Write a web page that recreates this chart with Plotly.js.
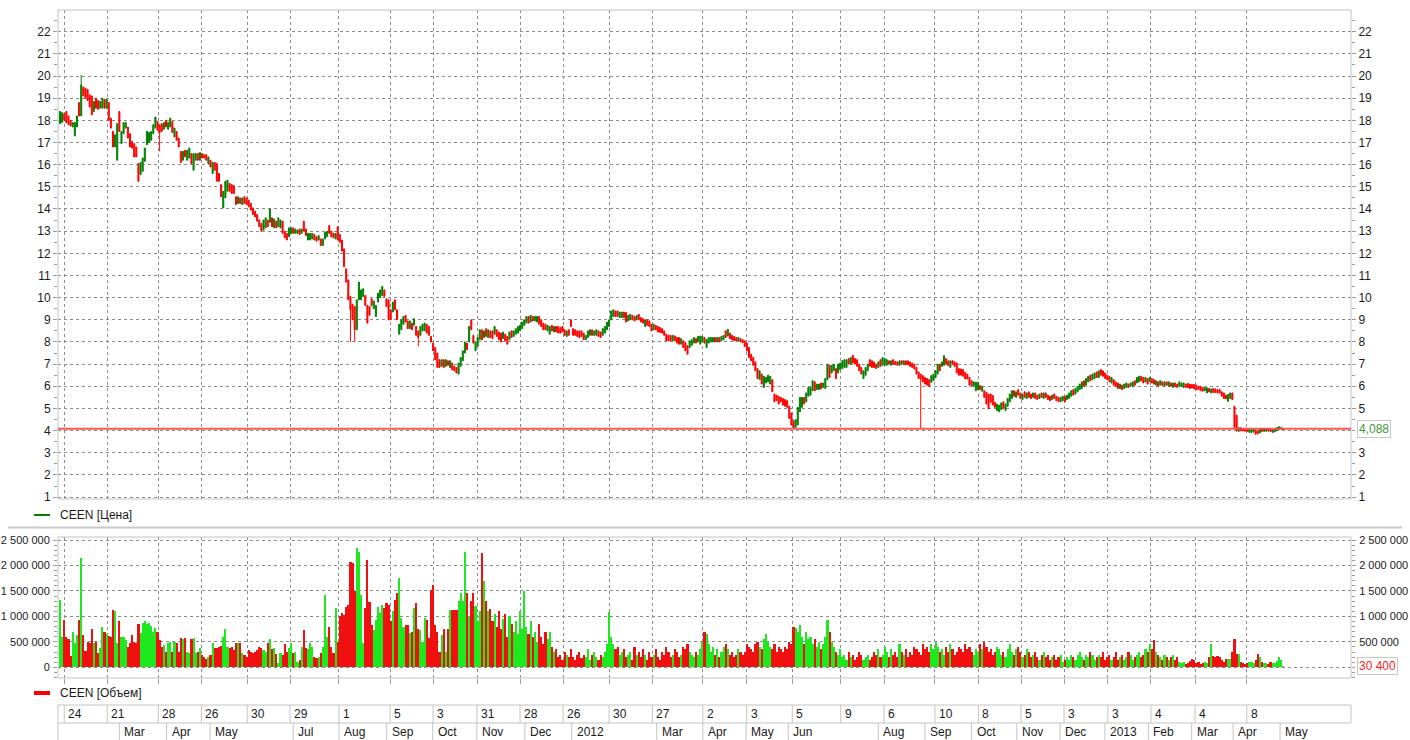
<!DOCTYPE html>
<html><head><meta charset="utf-8">
<script src="https://cdn.plot.ly/plotly-3.0.1.min.js"></script>
<style>html,body{margin:0;padding:0;background:#fff;overflow:hidden}#chart{width:1410px;height:740px}</style>
</head><body><div id="chart"></div>
<script>
// ---- price candles (one per trading day) ----
const openP = [
17.85,17.9,18.3,18.4,18.2,18,17.7,17.3,17.7,18.8,
18.2,19.5,19.45,19.4,19.15,19.1,18.4,19,18.9,18.55,
18.55,18.95,18.55,18.8,18.1,17.5,16.8,16.2,18.4,16.95,
17.4,17.65,17.7,17.4,17.05,16.95,16.8,16.05,15.55,15.7,
16.15,16.9,17,17.1,17.4,17.65,17.95,17.8,17.85,17.6,
18,17.6,17.7,17.95,17.25,17.5,17.2,16.6,16.2,16.65,
16.2,16.3,16.5,15.75,16.2,16.5,16.2,16.5,16.45,16.45,
16.05,16.2,15.6,16.1,16.05,15.6,15.1,14.05,14.5,14.8,
15.15,15.1,15.05,14.55,14.25,14.5,14.2,14.55,14.5,14.4,
14.25,14.05,13.9,13.75,13.5,13.35,13.05,13.15,13.5,13.4,
13.6,13.15,13.45,13.2,13.15,13.45,13,12.9,12.75,12.9,
13.15,12.9,12.9,13.1,12.9,13.45,13.1,12.6,12.6,12.65,
12.85,12.75,12.6,12.65,12.35,12.65,12.75,13.25,13,12.9,
12.65,13.2,12.85,12.6,12.2,11.3,10.8,10.05,9.7,9.6,
8.55,9.9,9.9,10.05,10.1,9.65,9.6,9.95,9.5,9.15,
9.8,10,10.1,10.35,9.95,9.9,9.45,9.35,9.9,9.45,
8.35,8.55,8.8,9.2,8.95,8.6,8.85,8.75,8.7,8.5,
8.3,8.5,8.5,8.8,8.7,8.25,7.95,7.75,7.5,7.2,
6.9,7.2,6.9,7.15,6.85,7.05,6.9,6.85,6.55,6.9,
7.15,7.5,7.95,8,9,8.3,7.6,7.8,8.1,8.55,
8.2,8.6,8.2,8.5,8.5,8.35,8.55,8.45,8.4,8.15,
8.35,8.25,8.1,8.5,8.25,8.35,8.4,8.5,8.6,8.75,
8.85,9.15,8.9,9.15,8.95,8.9,9.15,9,8.85,8.8,
8.5,8.35,8.75,8.45,8.7,8.7,8.65,8.7,8.55,8.25,
8.55,9,8.6,8.55,8.5,8.5,8.5,8.4,8.1,8.2,
8.3,8.55,8.3,8.3,8.5,8.45,8.3,8.4,8.55,8.7,
9,9.15,9.4,9.4,9.1,9.1,9.35,9.33,8.95,9,
9.2,9.15,9,9.25,9.1,9.05,8.7,9,8.95,8.8,
8.55,8.75,8.7,8.65,8.6,8.5,8.35,8.3,8.3,8.05,
8.27,8.2,8.2,7.9,8.05,7.97,7.83,7.75,7.85,7.95,
8.15,8,7.9,8,8.2,7.75,7.95,8,8,8.2,
8,8.2,8.05,8.1,8.5,8.27,8.4,8.3,8.25,8.2,
8.05,8.15,8.1,8.05,7.95,7.75,7.45,7.3,7.1,6.8,
6.3,6.55,5.95,6.15,6.2,6.1,6.3,5.65,5.6,5.55,
5.5,5.45,5.4,5.35,5.1,4.8,4.45,4.15,4.25,4.85,
5.05,5.5,5.3,5.55,5.6,5.8,6.2,5.85,5.85,6.15,
5.95,5.9,6.3,6.95,6.6,6.7,6.8,6.6,6.75,6.8,
6.85,6.85,7.25,7,7.4,7.25,7.2,7,6.85,6.35,
6.5,6.7,7.2,7.15,7.1,7,6.85,7.2,6.95,6.95,
6.95,7.15,6.95,7.2,7.12,7.1,6.95,7.15,6.97,7.15,
7.15,7.1,7.05,7,6.85,6.65,6.55,6.48,6.4,6.35,
6.3,6.18,6.25,6.4,6.55,7,6.9,6.95,7.25,7.15,
6.85,7.15,7.1,7.05,6.8,6.78,6.75,6.63,6.55,6.4,
6.25,6,5.8,5.85,6.03,5.78,5.8,5.73,5.65,5.65,
5.58,5.28,4.9,4.85,4.95,5.3,4.9,5.1,5.3,5.45,
5.8,5.5,5.85,5.7,5.4,5.75,5.45,5.75,5.65,5.5,
5.7,5.6,5.45,5.7,5.45,5.7,5.6,5.55,5.4,5.65,
5.55,5.5,5.3,5.35,5.55,5.4,5.45,5.55,5.85,5.65,
5.75,5.85,5.9,6.25,6.05,6.2,6.5,6.3,6.35,6.65,
6.4,6.75,6.7,6.6,6.5,6.45,6.15,6.3,6.2,6.15,
5.9,6.05,5.9,5.95,6.1,6,6,6.25,6.15,6.2,
6.45,6.4,6.2,6.35,6.2,6.35,6.3,6.05,6.2,6.05,
6.2,6,6.2,6,6.15,5.95,6.15,6.1,6,6,
5.95,6.1,6.13,6.1,6.08,6.08,6.05,6,6,5.95,
5.8,5.7,5.9,5.7,5.9,5.88,5.85,5.85,5.75,5.7,
5.6,5.32,5.45,5.7,5.1,4.7,3.97,4.12,4.08,4.05,
4.05,3.93,3.92,3.95,4.02,3.98,3.9,4.08,3.97,3.98,
4.08,4.05,3.92,3.95,4,4.06,4.07,4.05];
const highP = [
18.4,18.35,18.3,18.4,18.2,18,17.9,17.9,18.2,18.8,
20.05,19.5,19.45,19.4,19.15,19.1,18.85,19,18.9,18.85,
19,18.95,18.95,18.8,18.1,17.5,17.35,17.85,18.4,17.5,
17.9,17.9,17.7,17.4,17.05,16.95,16.8,16.05,16.1,16.3,
16.75,17.5,17.45,17.5,17.8,18.15,17.95,17.8,17.85,17.9,
18,17.9,18.1,17.95,17.65,17.5,17.2,16.6,16.6,16.65,
16.65,16.75,16.5,16.5,16.5,16.5,16.55,16.5,16.45,16.45,
16.35,16.2,16.1,16.1,16.05,15.6,15.1,14.8,15.25,15.3,
15.15,15.1,15.05,14.55,14.55,14.5,14.5,14.55,14.5,14.4,
14.25,14.05,13.9,13.75,13.5,13.35,13.5,13.6,13.5,14,
13.6,13.55,13.45,13.6,13.5,13.45,13,12.9,13.15,13.15,
13.15,13.1,13.05,13.1,13.1,13.45,13.1,12.9,12.9,12.9,
12.85,12.75,12.8,12.65,12.65,12.95,13,13.25,13,12.9,
12.9,13.2,12.85,12.6,12.2,11.3,10.8,10.05,9.7,9.6,
9.9,10.7,10.35,10.4,10.1,9.65,9.6,9.95,9.85,9.65,
10.2,10.35,10.5,10.35,9.95,9.9,9.45,9.8,9.9,9.45,
8.8,9,9.15,9.2,8.95,8.95,8.85,9.05,8.7,8.5,
8.7,8.8,8.85,8.8,8.7,8.25,7.95,7.75,7.5,7.2,
7.2,7.2,7.2,7.15,7.15,7.05,6.9,6.85,7.05,7.3,
7.6,8,7.95,8.7,9,8.3,8,8.2,8.55,8.55,
8.5,8.6,8.55,8.5,8.5,8.7,8.55,8.45,8.4,8.45,
8.35,8.25,8.45,8.5,8.5,8.6,8.7,8.75,8.9,9,
9.15,9.15,9.2,9.15,9.15,9.15,9.15,9,8.85,8.8,
8.75,8.7,8.75,8.7,8.7,8.7,8.65,8.7,8.55,8.5,
8.55,9,8.6,8.55,8.5,8.5,8.5,8.4,8.3,8.5,
8.55,8.55,8.5,8.55,8.5,8.45,8.6,8.7,8.9,9,
9.4,9.45,9.4,9.4,9.35,9.35,9.35,9.33,9.2,9.25,
9.2,9.15,9.2,9.25,9.1,9.05,9,9,8.95,8.8,
8.8,8.75,8.7,8.65,8.6,8.5,8.35,8.3,8.3,8.3,
8.27,8.2,8.2,8.15,8.05,7.97,7.83,8.05,8.1,8.2,
8.15,8.25,8.27,8.25,8.2,8.12,8.2,8.2,8.2,8.2,
8.2,8.2,8.25,8.3,8.5,8.57,8.4,8.3,8.25,8.2,
8.2,8.15,8.1,8.05,7.95,7.75,7.45,7.3,7.1,6.8,
6.7,6.55,6.45,6.4,6.5,6.45,6.3,5.65,5.6,5.55,
5.5,5.45,5.4,5.35,5.1,4.8,4.45,4.5,5.05,5.5,
5.5,5.5,5.7,5.95,5.95,6.25,6.2,6.1,6.1,6.15,
6.15,6.35,7,6.95,6.95,7,6.8,7,7.05,7.15,
7.2,7.2,7.25,7.3,7.4,7.25,7.2,7,6.85,6.7,
6.85,7,7.2,7.15,7.1,7,7.1,7.2,7.3,7.25,
7.2,7.15,7.15,7.2,7.12,7.1,7.15,7.15,7.15,7.15,
7.15,7.1,7.05,7,6.85,6.65,6.55,6.48,6.4,6.35,
6.3,6.48,6.55,6.7,7,7,7.1,7.38,7.25,7.15,
7.15,7.15,7.1,7.05,6.8,6.78,6.75,6.63,6.55,6.4,
6.25,6.2,6.18,6.18,6.03,6,5.8,5.73,5.65,5.65,
5.58,5.28,5.2,5.15,5.25,5.3,5.2,5.45,5.65,5.8,
5.8,5.75,5.85,5.7,5.65,5.75,5.7,5.75,5.65,5.7,
5.7,5.6,5.65,5.7,5.7,5.7,5.6,5.55,5.6,5.65,
5.55,5.5,5.5,5.55,5.55,5.6,5.7,5.8,5.85,5.9,
6,6.1,6.2,6.25,6.35,6.45,6.5,6.55,6.6,6.65,
6.7,6.75,6.7,6.6,6.5,6.45,6.4,6.3,6.2,6.15,
6.1,6.05,6.1,6.15,6.1,6.15,6.2,6.25,6.4,6.45,
6.45,6.4,6.4,6.35,6.4,6.35,6.3,6.25,6.2,6.25,
6.2,6.2,6.2,6.2,6.15,6.15,6.15,6.1,6.2,6.15,
6.15,6.1,6.13,6.1,6.08,6.08,6.05,6,6,5.95,
5.95,5.93,5.9,5.88,5.9,5.88,5.85,5.85,5.75,5.7,
5.6,5.63,5.7,5.7,5.1,4.7,4.17,4.15,4.1,4.08,
4.08,4.08,4.06,4.1,4.02,4,4.08,4.1,4.12,4.1,
4.1,4.08,4.05,4.08,4.15,4.2,4.18,4.12];
const lowP = [
17.85,17.9,18,17.9,17.8,17.75,17.7,17.3,17.7,18.2,
18.2,19.1,19,18.9,18.6,18.25,18.4,18.55,18.5,18.55,
18.55,18.55,18.55,18,17.65,16.8,16.8,16.2,17.5,16.95,
17.4,17.65,17.2,16.8,16.75,16.35,16.35,15.25,15.55,15.7,
16.15,16.9,17,17.1,17.4,17.65,17.55,16.6,17.5,17.6,
17.7,17.6,17.7,17.45,17.25,17.1,16.8,16.1,16.2,16.35,
16.2,16.3,16.05,15.75,16.2,16.2,16.2,16.3,16.3,16.2,
16.05,15.9,15.6,15.75,15.25,15.25,14.55,14.05,14.5,14.8,
14.8,14.7,14.7,14.2,14.25,14.25,14.2,14.25,14.2,14.1,
13.95,13.75,13.65,13.45,13.2,13,13.05,13.15,13.2,13.4,
13.2,13.15,13.15,13.2,13.15,12.9,12.7,12.6,12.75,12.9,
12.9,12.9,12.9,12.85,12.9,13,12.8,12.6,12.6,12.65,
12.6,12.55,12.6,12.35,12.35,12.65,12.75,12.9,12.75,12.7,
12.65,12.6,12.5,12.1,11.4,10.7,9.9,8,9,8,
8.55,9.9,9.9,10.05,9.65,8.85,9.2,9.65,9.5,9.15,
9.8,10,10.1,10.05,9.6,9,9,9.35,9.45,9,
8.35,8.55,8.8,8.9,8.6,8.6,8.55,8.75,8.3,7.8,
8.3,8.5,8.5,8.4,8.3,8,7.6,7.2,6.85,6.85,
6.9,6.85,6.9,6.95,6.85,6.75,6.7,6.6,6.55,6.9,
7.15,7.5,7.65,8,8.55,7.95,7.6,7.8,8.1,8.1,
8.2,8.25,8.2,8.2,8.15,8.35,8.25,8.1,8,8.15,
8.05,7.9,8.1,8.2,8.25,8.35,8.4,8.5,8.6,8.75,
8.85,8.85,8.9,8.95,8.95,8.9,8.8,8.7,8.55,8.55,
8.5,8.35,8.5,8.45,8.45,8.4,8.4,8.45,8.3,8.25,
8.3,8.7,8.3,8.3,8.25,8.2,8.25,8.1,8.1,8.2,
8.3,8.3,8.3,8.3,8.25,8.2,8.3,8.4,8.55,8.7,
9,9.15,9.15,9.15,9.1,9.1,9.1,8.9,8.95,9,
9,8.95,9,9,8.9,8.85,8.7,8.75,8.7,8.5,
8.55,8.55,8.45,8.43,8.4,8.3,8.05,8.05,8.05,8.05,
8.05,7.95,7.9,7.9,7.75,7.6,7.45,7.75,7.85,7.95,
7.95,8,7.9,8,7.95,7.75,7.95,8,8,8,
8,8,8.05,8.1,8.2,8.27,8.15,8.1,8.05,8.05,
8.05,8,7.97,7.8,7.6,7.3,7.15,6.95,6.7,6.35,
6.3,6.1,5.95,6.15,6.2,6.1,5.75,5.3,5.35,5.2,
5.3,5.15,5.1,5.05,4.55,4.25,4.12,4.15,4.25,4.85,
5.05,5.2,5.3,5.55,5.6,5.8,5.8,5.85,5.85,5.88,
5.95,5.9,6.3,6.4,6.6,6.7,6.35,6.6,6.75,6.8,
6.85,6.85,7,7,7.05,7,6.9,6.7,6.55,6.35,
6.5,6.7,6.9,6.85,6.85,6.8,6.85,6.9,6.95,6.95,
6.95,7,6.95,7,6.98,6.95,6.95,7,6.97,6.97,
6.97,6.9,6.85,6.78,6.55,6.35,4.09,6.2,6.1,6.05,
6,6.18,6.25,6.4,6.55,6.7,6.9,6.95,7,6.93,
6.85,7,6.9,6.6,6.5,6.5,6.45,6.33,6.33,6.05,
6.03,6,5.8,5.85,5.85,5.78,5.5,5.2,4.98,5.28,
5.15,5.05,4.9,4.85,4.95,5,4.9,5.1,5.3,5.45,
5.55,5.5,5.6,5.45,5.4,5.5,5.45,5.5,5.45,5.5,
5.45,5.4,5.45,5.5,5.45,5.5,5.4,5.35,5.4,5.45,
5.35,5.3,5.3,5.35,5.3,5.4,5.45,5.55,5.6,5.65,
5.75,5.85,5.9,6,6.05,6.2,6.25,6.3,6.35,6.4,
6.4,6.5,6.45,6.35,6.3,6.2,6.15,6.05,6,5.9,
5.9,5.85,5.9,5.95,5.95,6,6,6.05,6.15,6.2,
6.25,6.15,6.2,6.1,6.2,6.15,6.1,6.05,6,6.05,
6.05,6,6.05,6,6,5.95,6,5.95,6,6,
5.95,5.95,5.93,5.9,5.93,5.88,5.85,5.85,5.8,5.78,
5.8,5.7,5.75,5.7,5.72,5.72,5.7,5.7,5.55,5.45,
5.43,5.32,5.45,5.4,4.1,3.95,3.95,3.97,3.97,3.95,
3.95,3.9,3.88,3.9,3.8,3.82,3.88,3.95,3.95,3.95,
3.95,3.95,3.9,3.93,4,4.05,4.05,4.04];
const closeP = [
18.4,18.35,18,17.9,17.8,17.75,17.9,17.9,18.2,18.2,
19.6,19.1,19,18.9,18.6,18.25,18.85,18.55,18.5,18.85,
19,18.55,18.95,18,17.65,16.8,17.35,17.85,17.5,17.5,
17.9,17.9,17.2,16.8,16.75,16.35,16.35,15.25,16.1,16.3,
16.75,17.5,17.45,17.5,17.8,18.15,17.55,17.45,17.5,17.9,
17.7,17.9,18.1,17.45,17.65,17.1,16.8,16.1,16.6,16.35,
16.65,16.75,16.05,16.5,16.5,16.2,16.55,16.3,16.3,16.2,
16.35,15.9,16.1,15.75,15.25,15.25,14.55,14.8,15.25,15.3,
14.8,14.7,14.7,14.2,14.55,14.25,14.5,14.25,14.2,14.1,
13.95,13.75,13.65,13.45,13.2,13,13.5,13.6,13.2,14,
13.2,13.55,13.15,13.6,13.5,12.9,12.7,12.6,13.15,13.15,
12.9,13.1,13.05,12.85,13.1,13,12.8,12.9,12.9,12.9,
12.6,12.55,12.8,12.35,12.65,12.95,13,12.9,12.75,12.7,
12.9,12.6,12.5,12.1,11.4,10.7,9.9,9.45,9,8.55,
9.9,10.7,10.35,10.4,9.65,8.85,9.2,9.65,9.85,9.65,
10.2,10.35,10.5,10.05,9.6,9,9,9.8,9.45,9,
8.8,9,9.15,8.9,8.6,8.95,8.55,9.05,8.3,8.2,
8.7,8.8,8.85,8.4,8.3,8,7.6,7.2,6.85,6.85,
7.2,6.85,7.2,6.95,7.15,6.75,6.7,6.6,7.05,7.3,
7.6,8,7.65,8.7,8.55,7.95,8,8.2,8.55,8.1,
8.5,8.25,8.55,8.2,8.15,8.7,8.25,8.1,8,8.45,
8.05,7.9,8.45,8.2,8.5,8.6,8.7,8.75,8.9,9,
9.15,8.85,9.2,8.95,9.15,9.15,8.8,8.7,8.55,8.55,
8.75,8.7,8.5,8.7,8.45,8.4,8.4,8.45,8.3,8.5,
8.3,8.7,8.3,8.3,8.25,8.2,8.25,8.1,8.3,8.5,
8.55,8.3,8.5,8.55,8.25,8.2,8.6,8.7,8.9,9,
9.4,9.45,9.15,9.15,9.35,9.35,9.1,8.9,9.2,9.25,
9,8.95,9.2,9,8.9,8.85,9,8.75,8.7,8.5,
8.8,8.55,8.45,8.43,8.4,8.3,8.05,8.05,8.05,8.3,
8.05,7.95,7.9,8.15,7.75,7.6,7.45,8.05,8.1,8.2,
7.95,8.25,8.27,8.25,7.95,8.12,8.2,8.2,8.2,8,
8.2,8,8.25,8.3,8.2,8.57,8.15,8.1,8.05,8.05,
8.2,8,7.97,7.8,7.6,7.3,7.15,6.95,6.7,6.35,
6.7,6.1,6.45,6.4,6.5,6.45,5.75,5.3,5.35,5.2,
5.3,5.15,5.1,5.05,4.55,4.25,4.12,4.5,5.05,5.5,
5.5,5.2,5.7,5.95,5.95,6.25,5.8,6.1,6.1,5.88,
6.15,6.35,7,6.4,6.95,7,6.35,7,7.05,7.15,
7.2,7.2,7,7.3,7.05,7,6.9,6.7,6.55,6.7,
6.85,7,6.9,6.85,6.85,6.8,7.1,6.9,7.3,7.25,
7.2,7,7.15,7,6.98,6.95,7.15,7,7.15,6.97,
6.97,6.9,6.85,6.78,6.55,6.35,6.33,6.2,6.1,6.05,
6,6.48,6.55,6.7,7,6.7,7.1,7.38,7,6.93,
7.15,7,6.9,6.6,6.5,6.5,6.45,6.33,6.33,6.05,
6.03,6.2,6.18,6.18,5.85,6,5.5,5.2,4.98,5.28,
5.15,5.05,5.2,5.15,5.25,5,5.2,5.45,5.65,5.8,
5.55,5.75,5.6,5.45,5.65,5.5,5.7,5.5,5.45,5.7,
5.45,5.4,5.65,5.5,5.7,5.5,5.4,5.35,5.6,5.45,
5.35,5.3,5.5,5.55,5.3,5.6,5.7,5.8,5.6,5.9,
6,6.1,6.2,6,6.35,6.45,6.25,6.55,6.6,6.4,
6.7,6.5,6.45,6.35,6.3,6.2,6.4,6.05,6,5.9,
6.1,5.85,6.1,6.15,5.95,6.15,6.2,6.05,6.4,6.45,
6.25,6.15,6.4,6.1,6.4,6.15,6.1,6.25,6,6.25,
6.05,6.2,6.05,6.2,6,6.15,6,5.95,6.2,6.15,
6.15,5.95,5.93,5.9,5.93,5.88,5.85,5.85,5.8,5.78,
5.95,5.93,5.75,5.88,5.72,5.72,5.7,5.7,5.55,5.45,
5.43,5.63,5.7,5.4,4.15,4,4.12,4,4,3.98,
3.97,4.05,4.04,4.06,3.85,3.88,4.05,3.97,4.08,4.06,
3.98,3.96,4.03,4.06,4.13,4.17,4.12,4.088];
// ---- volume, thousands of shares ----
const volumeK = [
1330,600,930,600,560,220,700,470,640,930,
2140,640,330,500,470,760,470,500,280,370,
800,700,660,620,600,1130,1100,470,900,600,
590,540,400,470,640,500,470,860,670,880,
900,850,870,810,700,780,700,540,400,440,
310,480,500,310,500,480,310,570,550,570,
310,290,550,570,280,310,370,240,210,160,
210,240,470,370,370,400,420,600,760,400,
370,400,340,470,470,470,280,240,210,340,
310,280,310,340,400,370,340,310,470,550,
350,370,260,80,280,240,460,310,370,470,
280,310,110,150,400,730,370,350,470,400,
210,180,210,290,400,1420,600,800,400,280,
1160,500,1000,1060,1030,1190,1220,2070,2050,1500,
2340,2270,1420,470,1160,2100,1290,830,740,930,
1190,1060,1220,1160,1260,1220,900,1100,1320,1450,
1750,960,800,830,830,680,700,1160,1260,760,
730,500,960,930,570,1520,1620,830,700,310,
630,760,310,760,1130,1130,1130,1130,1300,1450,
1300,2270,1450,1000,1300,1450,1200,900,1100,2250,
1700,1300,1100,1150,900,1050,800,1100,750,950,
1050,600,1000,850,700,900,650,1100,750,1500,
800,650,900,600,700,500,850,600,450,700,
550,700,400,300,350,200,250,150,300,250,
200,350,200,150,250,300,180,250,200,350,
150,250,300,200,150,250,200,300,450,1090,
600,450,350,400,250,300,350,200,250,300,
150,400,250,300,200,350,250,150,300,200,
250,350,200,150,300,250,400,300,200,250,
350,300,200,250,400,350,450,300,250,200,
300,250,350,500,700,650,450,300,400,250,
350,200,300,400,450,350,250,300,200,250,
350,300,250,300,450,400,350,300,450,500,
400,350,550,650,500,400,350,450,300,400,
350,300,400,350,500,450,800,780,700,830,
600,450,700,550,600,450,550,400,500,350,
450,600,930,700,500,400,300,250,350,200,
250,150,300,200,250,150,200,300,250,150,
200,250,150,200,300,250,350,200,250,400,
300,200,350,250,300,200,450,300,250,350,
200,300,250,400,350,300,250,450,350,400,
300,450,350,500,400,300,350,250,400,300,
450,350,250,300,400,350,300,450,350,400,
300,250,350,300,450,350,500,400,300,350,
250,300,400,350,250,300,200,350,450,300,
250,350,400,300,200,250,350,300,200,250,
300,200,150,250,300,200,250,150,200,250,
150,200,250,100,150,200,150,250,200,150,
250,300,200,150,250,200,300,250,150,200,
250,200,300,150,200,250,150,200,300,150,
200,250,150,200,300,250,150,200,250,300,
200,250,350,300,450,350,540,300,250,200,
150,250,200,150,200,250,150,200,100,80,
100,70,90,120,170,150,80,100,70,90,
100,80,200,450,220,200,230,210,150,100,
170,160,170,300,550,270,270,100,80,70,
90,100,110,90,150,270,200,100,80,90,
70,100,90,80,120,210,150,30.4];
// ---- time-axis labels (positions in trading-day index) ----
const dayTickPos  = [2,22.3,46.4,66.7,88.3,108.5,131.6,155.7,176,196.7,217,237.3,259,279.4,303.2,323.9,345.4,368.3,388.7,412.7,433.2,453.3,473.6,494.3,514.6,535.4,559.8];
const dayTickText = ['24','21','28','26','30','29','1','5','3','31','28','26','30','27','2','3','5','9','6','10','8','5','3','3','4','4','8'];
const monthPos  = [28,50.3,70.8,110,131.6,154.1,175.8,196.6,219.3,241.4,281.5,303.2,323.6,343.5,386,408,430,451.3,471.7,492.9,513.4,533.8,553.4,575.5];
const monthText = ['Mar','Apr','May','Jul','Aug','Sep','Oct','Nov','Dec','2012','Mar','Apr','May','Jun','Aug','Sep','Oct','Nov','Dec','2013','Feb','Mar','Apr','May'];
const priceTicks = [1,2,3,4,5,6,7,8,9,10,11,12,13,14,15,16,17,18,19,20,21,22];
const volTicks = [0,500000,1000000,1500000,2000000,2500000];
const volTickText = ['0','500 000','1 000 000','1 500 000','2 000 000','2 500 000'];
const ticker = 'CEEN';

// ---- build ----
const W = 1410, H = 740;
const PX = x => x / W, PY = y => 1 - y / H;
const N = closeP.length;
const xi = closeP.map((_, i) => i);
const volume = volumeK.map(v => v * 1000);
const UP = '#008000', DOWN = '#ff0000', VUP = '#1ee81e', VDOWN = '#f01010';
const volColors = closeP.map((c, i) => c >= openP[i] ? VUP : VDOWN);
const lastClose = closeP[N - 1], lastVol = volume[N - 1];
const fmtSpace = v => String(Math.round(v)).replace(/\B(?=(\d{3})+(?!\d))/g, ' ');
const FONT = 'Liberation Sans, Arial, sans-serif';
const GRID = '#8c8c8c', FRAME = '#c4c4c4', TICKC = '#9a9a9a';

const traces = [
  {type:'candlestick', x:xi, open:openP, high:highP, low:lowP, close:closeP, xaxis:'x', yaxis:'y',
   increasing:{line:{color:UP,width:1}, fillcolor:UP}, decreasing:{line:{color:DOWN,width:1}, fillcolor:DOWN},
   whiskerwidth:0, hoverinfo:'skip', showlegend:false},
  {type:'bar', x:xi, y:volume, xaxis:'x', yaxis:'y2', width:1, marker:{color:volColors, line:{width:0}},
   hoverinfo:'skip', showlegend:false},
  {type:'scatter', x:[0], y:[10], xaxis:'x', yaxis:'y3', mode:'markers', marker:{opacity:0}, hoverinfo:'skip', showlegend:false},
  {type:'scatter', x:[0], y:[100000], xaxis:'x', yaxis:'y4', mode:'markers', marker:{opacity:0}, hoverinfo:'skip', showlegend:false}
];

const priceRange = [0.914, 22.979];
const volRange = [-210000, 2559000];
const yPriceDom = [PY(499), PY(10)];
const yVolDom = [PY(678), PY(537)];
const tickFont = {family:FONT, size:12, color:'#1a1a1a'};
const volTickFont = {family:FONT, size:11, color:'#1a1a1a'};

const shapes = [];
const annotations = [];
// panel frames
shapes.push({type:'rect', xref:'paper', yref:'paper', x0:PX(58), x1:PX(1351), y0:PY(499), y1:PY(10), line:{color:FRAME,width:1}, layer:'above'});
shapes.push({type:'rect', xref:'paper', yref:'paper', x0:PX(58), x1:PX(1351), y0:PY(678), y1:PY(537), line:{color:FRAME,width:1}, layer:'above'});
// separator under price legend
shapes.push({type:'line', xref:'paper', yref:'paper', x0:PX(8), x1:PX(1402), y0:PY(527.5), y1:PY(527.5), line:{color:'#c8c8c8',width:2}});
// last price line
shapes.push({type:'line', xref:'paper', yref:'y', x0:PX(58), x1:PX(1351), y0:lastClose, y1:lastClose, line:{color:'rgba(255,70,70,0.9)',width:2}, layer:'above'});
// legend swatches
shapes.push({type:'line', xref:'paper', yref:'paper', x0:PX(34), x1:PX(50), y0:PY(515), y1:PY(515), line:{color:UP,width:2}});
shapes.push({type:'line', xref:'paper', yref:'paper', x0:PX(34), x1:PX(50), y0:PY(693), y1:PY(693), line:{color:'#ff0000',width:4}});
// time label boxes
shapes.push({type:'line', xref:'paper', yref:'paper', x0:PX(58), x1:PX(1351), y0:PY(705), y1:PY(705), line:{color:FRAME,width:1}});
shapes.push({type:'line', xref:'paper', yref:'paper', x0:PX(58), x1:PX(1351), y0:PY(723), y1:PY(723), line:{color:FRAME,width:1}});
shapes.push({type:'line', xref:'paper', yref:'paper', x0:PX(58), x1:PX(58), y0:PY(705), y1:PY(740), line:{color:FRAME,width:1}});
shapes.push({type:'line', xref:'paper', yref:'paper', x0:PX(1351), x1:PX(1351), y0:PY(705), y1:PY(723), line:{color:FRAME,width:1}});
dayTickPos.forEach((p, i) => {
  shapes.push({type:'line', xref:'x', yref:'paper', x0:p, x1:p, y0:PY(705), y1:PY(723), line:{color:FRAME,width:1}});
  annotations.push({xref:'x', yref:'paper', x:p, y:PY(714), xanchor:'left', yanchor:'middle', xshift:2, showarrow:false,
    text:dayTickText[i], font:{family:FONT, size:12, color:'#1a1a1a'}});
});
monthPos.forEach((p, i) => {
  shapes.push({type:'line', xref:'x', yref:'paper', x0:p, x1:p, y0:PY(723), y1:PY(740), line:{color:FRAME,width:1}});
  annotations.push({xref:'x', yref:'paper', x:p, y:PY(732), xanchor:'left', yanchor:'middle', xshift:3, showarrow:false,
    text:monthText[i], font:{family:FONT, size:12, color:'#1a1a1a'}});
});
// legends
annotations.push({xref:'paper', yref:'paper', x:PX(58), y:PY(515), xanchor:'left', yanchor:'middle', showarrow:false,
  text:ticker + ' [Цена]', font:{family:FONT, size:12, color:'#1a1a1a'}});
annotations.push({xref:'paper', yref:'paper', x:PX(58), y:PY(693), xanchor:'left', yanchor:'middle', showarrow:false,
  text:ticker + ' [Объем]', font:{family:FONT, size:12, color:'#1a1a1a'}});
// current value boxes
annotations.push({xref:'paper', yref:'y', x:PX(1357), y:lastClose, xanchor:'left', yanchor:'middle', showarrow:false,
  text:lastClose.toFixed(3).replace('.', ','), font:{family:FONT, size:12, color:'#3a9a3a'},
  bgcolor:'#ffffff', bordercolor:'#c8c8c8', borderwidth:1, borderpad:1});
annotations.push({xref:'paper', yref:'y2', x:PX(1357), y:lastVol, xanchor:'left', yanchor:'middle', showarrow:false,
  text:fmtSpace(lastVol), font:{family:FONT, size:12, color:'#ff2020'},
  bgcolor:'#ffffff', bordercolor:'#c8c8c8', borderwidth:1, borderpad:1});

const yCommon = {showline:false, zeroline:false, ticks:'outside', ticklen:4, tickcolor:TICKC, tickwidth:1,
  tickfont:tickFont, fixedrange:true};

const layout = {
  width:W, height:H, margin:{l:0,r:0,t:0,b:0}, paper_bgcolor:'#ffffff', plot_bgcolor:'#ffffff',
  showlegend:false, font:{family:FONT, size:12, color:'#1a1a1a'}, bargap:0, hovermode:false,
  xaxis:{domain:[PX(58), PX(1351)], anchor:'y2', type:'linear', range:[-0.943, 608.96],
    tickmode:'array', tickvals:dayTickPos, showticklabels:false, ticks:'outside', ticklen:5, tickcolor:TICKC,
    showgrid:true, gridcolor:GRID, griddash:'3px,3px', gridwidth:1, zeroline:false, showline:false,
    rangeslider:{visible:false}, fixedrange:true},
  yaxis:Object.assign({}, yCommon, {domain:yPriceDom, anchor:'x', side:'left', range:priceRange,
    tickmode:'array', tickvals:priceTicks, showgrid:true, gridcolor:GRID, griddash:'3px,3px',
    minor:{dtick:0.5, tick0:0, ticks:'outside', ticklen:3, tickcolor:TICKC, showgrid:false}}),
  yaxis3:Object.assign({}, yCommon, {domain:yPriceDom, anchor:'x', overlaying:'y', side:'right', range:priceRange,
    tickmode:'array', tickvals:priceTicks.filter(v => v !== Math.round(lastClose)), showgrid:false,
    minor:{dtick:0.5, tick0:0, ticks:'outside', ticklen:3, tickcolor:TICKC, showgrid:false}}),
  yaxis2:Object.assign({}, yCommon, {domain:yVolDom, anchor:'x', side:'left', range:volRange, tickfont:volTickFont,
    ticklabelstandoff:1,
    tickmode:'array', tickvals:volTicks, ticktext:volTickText, showgrid:true, gridcolor:GRID, griddash:'3px,3px',
    minor:{dtick:100000, tick0:0, ticks:'outside', ticklen:3, tickcolor:TICKC, showgrid:false}}),
  yaxis4:Object.assign({}, yCommon, {domain:yVolDom, anchor:'x', overlaying:'y2', side:'right', range:volRange, tickfont:volTickFont,
    ticklabelstandoff:1,
    tickmode:'array', tickvals:volTicks.slice(1), ticktext:volTickText.slice(1), showgrid:false,
    minor:{dtick:100000, tick0:0, ticks:'outside', ticklen:3, tickcolor:TICKC, showgrid:false}}),
  shapes:shapes, annotations:annotations
};

Plotly.newPlot('chart', traces, layout, {staticPlot:true, displayModeBar:false});
</script>
</body></html>
